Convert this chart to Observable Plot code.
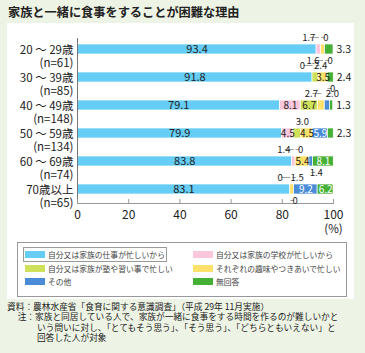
<!DOCTYPE html>
<html><head><meta charset="utf-8">
<script src="https://cdn.jsdelivr.net/npm/d3@7"></script>
<script src="https://cdn.jsdelivr.net/npm/@observablehq/plot@0.6"></script>
<style>
body{margin:0;background:#eef4e5;width:365px;height:353px;overflow:hidden;font-family:"Noto Sans CJK JP",sans-serif;position:relative;}
#title{position:absolute;left:8px;top:3px;font-size:12.2px;font-weight:bold;color:#222;white-space:nowrap;}
#panel{position:absolute;left:7px;top:23px;width:347px;height:276px;background:#fff;}
#chart{position:absolute;left:0;top:24px;}
#legend{position:absolute;left:17px;top:242px;width:330px;height:55px;border:1px solid #999;box-sizing:border-box;}
.item{position:absolute;height:11px;display:flex;align-items:center;font-size:7.8px;color:#444;white-space:nowrap;}
.sw{width:20px;height:7px;margin-right:3px;}
.sel{outline:1px solid #999;outline-offset:1px;}
#notes{position:absolute;left:7px;top:302px;font-size:8.7px;line-height:10.3px;color:#222;white-space:nowrap;}
.ind{padding-left:30px;}
</style></head>
<body>
<div id="title">家族と一緒に食事をすることが困難な理由</div>
<div id="panel"></div>
<div id="chart"></div>
<div id="legend"></div>
<div id="notes"></div>
<script>
const ages = ["20 ～ 29歳","30 ～ 39歳","40 ～ 49歳","50 ～ 59歳","60 ～ 69歳","70歳以上"];
const counts = ["(n=61)","(n=85)","(n=148)","(n=134)","(n=74)","(n=65)"];
const seriesNames = ["自分又は家族の仕事が忙しいから","自分又は家族の学校が忙しいから","自分又は家族が塾や習い事で忙しい","それぞれの趣味やつきあいで忙しい","その他","無回答"];
const colors = ["#66cdf6","#f9c6dc","#cfe15b","#fee16b","#4a8cd8","#45b035"];
const work     = [93.4, 91.8, 79.1, 79.9, 83.8, 83.1];
const school   = [1.7, 0, 8.1, 4.5, 1.4, 0];
const lessons  = [0, 2.4, 6.7, 3.0, 0, 0];
const hobby    = [1.6, 3.5, 2.7, 4.5, 5.4, 1.5];
const other    = [0, 0, 2.0, 5.9, 1.4, 9.2];
const noAnswer = [3.3, 2.4, 1.3, 2.3, 8.1, 6.2];
const xTicks = [0, 20, 40, 60, 80, 100];
// which small segments get their callout below the bar (series index per age row)
const calloutBelow = [[3,4],[4],[],[],[4],[2]];

const series = [work, school, lessons, hobby, other, noAnswer];
const rows = [];
ages.forEach((age, i) => {
  let s = 0;
  series.forEach((vals, j) => {
    const v = vals[i];
    rows.push({age, i, j, series: seriesNames[j], value: v, start: s, end: s + v, mid: v > 0 ? s + v / 2 : s});
    s += v;
  });
});

const W = 360, H = 220, mL = 77, mR = 27, mT = 14, mB = 41;
const k = 100 / (W - mL - mR); // data units per pixel

const inside = rows.filter(d => d.value >= 3.5);
const right = rows.filter(d => d.j === 5 && d.value < 3.5);
const callouts = [];
ages.forEach((age, i) => {
  ["above","below"].forEach(side => {
    const grp = rows.filter(d => d.i === i && d.j > 0 && d.j < 5 && d.value < 3.5 &&
      ((side === "below") === calloutBelow[i].includes(d.j)));
    grp.forEach((d, n) => {
      const left = grp.length === 2 && n === 0;
      callouts.push({...d, side, left,
        hx2: left ? d.mid - 9 * k : d.mid + 4 * k,
        tx: left ? d.mid - 10 * k : d.mid + 5 * k,
        label: d.value.toFixed(d.value === 0 ? 0 : 1)});
    });
  });
});
const fmt = d => d.value.toFixed(1);
const lineC = "#8a8a8a";
const up = callouts.filter(d => d.side === "above"), dn = callouts.filter(d => d.side === "below");

const chart = Plot.plot({
  width: W, height: H, marginLeft: mL, marginRight: mR, marginTop: mT, marginBottom: mB,
  style: {fontFamily: "'Noto Sans CJK JP', sans-serif", background: "transparent", color: "#222"},
  x: {domain: [0, 100], label: null},
  y: {domain: ages, range: [0, 190], padding: 0.65, label: null},
  color: {domain: seriesNames, range: colors},
  marks: [
    Plot.barX(rows.filter(d => d.value > 0), {x1: "start", x2: "end", y: "age", fill: "series", stroke: "white", strokeWidth: 0.7}),
    Plot.ruleX([0], {stroke: "#777"}),
    Plot.frame({anchor: "bottom", stroke: "#999"}),
    Plot.ruleX(xTicks, {x: d => d, stroke: "#999", insetTop: H - mT - mB - 4}),
    Plot.axisX({ticks: xTicks, tickSize: 0, tickPadding: 7, fontSize: 12, label: null}),
    Plot.axisY({tickSize: 0, tickPadding: 4, fontSize: 11.5, lineHeight: 1.2, dy: 6.5,
      tickFormat: d => d + "\n" + counts[ages.indexOf(d)], label: null}),
    Plot.text(["(%)"], {x: 100, frameAnchor: "bottom", dy: 29, fontSize: 11.5}),
    // leaders
    Plot.ruleX(up, {x: "mid", y: "age", dy: -7, insetBottom: 3, stroke: lineC, strokeWidth: 0.8}),
    Plot.ruleX(dn, {x: "mid", y: "age", dy: 6, insetTop: 4, stroke: lineC, strokeWidth: 0.8}),
    Plot.link(up, {x1: "mid", x2: "hx2", y1: "age", y2: "age", dy: -12, stroke: lineC, strokeWidth: 0.8}),
    Plot.link(dn, {x1: "mid", x2: "hx2", y1: "age", y2: "age", dy: 11, stroke: lineC, strokeWidth: 0.8}),
    Plot.text(up, {x: "tx", y: "age", dy: -12, text: "label", textAnchor: d => d.left ? "end" : "start", fontSize: 9.5, fill: "#222"}),
    Plot.text(dn, {x: "tx", y: "age", dy: 11, text: "label", textAnchor: d => d.left ? "end" : "start", fontSize: 9.5, fill: "#222"}),
    // values
    Plot.text(inside, {x: "mid", y: "age", text: fmt, fontSize: d => d.value >= 10 ? 11 : 10, fill: d => d.j >= 4 ? "#fff" : "#222"}),
    Plot.text(right, {x: "end", y: "age", text: fmt, dx: 3, textAnchor: "start", fontSize: 10.5, fill: "#222"})
  ]
});
document.getElementById("chart").appendChild(chart);

// legend
const leg = document.getElementById("legend");
const cols = [7, 175], rowY = [6, 20, 33];
seriesNames.forEach((name, j) => {
  const it = document.createElement("div");
  it.className = "item" + (j === 0 ? " sel" : "");
  it.style.left = cols[j % 2] + "px";
  it.style.top = rowY[Math.floor(j / 2)] + "px";
  it.innerHTML = `<span class="sw" style="background:${colors[j]}"></span>${name}`;
  leg.appendChild(it);
});

const notes = [
  "資料：農林水産省「食育に関する意識調査」（平成 29年 11月実施）",
  "　 注：家族と同居している人で、家族が一緒に食事をする時間を作るのが難しいかと",
  "いう問いに対し、「とてもそう思う」、「そう思う」、「どちらともいえない」と",
  "回答した人が対象"
];
const nd = document.getElementById("notes");
notes.forEach((t, i) => {
  const div = document.createElement("div");
  div.textContent = t;
  if (i >= 2) div.className = "ind";
  nd.appendChild(div);
});
</script>
</body></html>
